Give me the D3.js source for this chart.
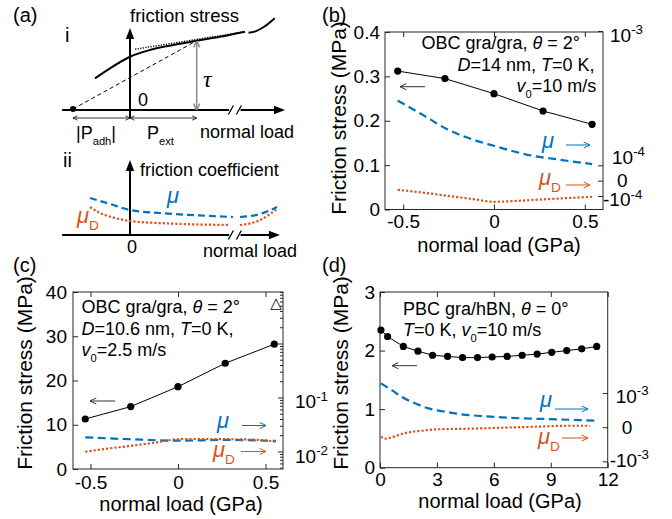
<!DOCTYPE html>
<html><head><meta charset="utf-8">
<script src="https://cdn.jsdelivr.net/npm/d3@7"></script>
<style>
body{margin:0;background:#fff}
svg{display:block}
text{font-family:"Liberation Sans",Arial,Helvetica,sans-serif}
</style>
</head><body>
<svg id="c" width="672" height="519"></svg>
<script>
// ---------------- DATA ----------------
// panel (b)
const loadB = [-0.53, -0.27, 0, 0.27, 0.54];
const tauB = [0.312, 0.295, 0.261, 0.222, 0.192];
const muLoadB = [-0.53, -0.4, -0.26, -0.1, 0, 0.1, 0.21, 0.34, 0.54];
const muB = [3.06e-4, 2.43e-4, 1.88e-4, 1.54e-4, 1.41e-4, 1.29e-4, 1.19e-4, 1.12e-4, 1.03e-4];
const muDLoadB = [-0.53, -0.44, -0.26, -0.115, 0, 0.1, 0.2, 0.36, 0.54];
const muDB = [-0.57e-4, -0.68e-4, -0.95e-4, -1.046e-4, -1.095e-4, -1.083e-4, -1.064e-4, -1.035e-4, -1.005e-4];
const xTicksB = [-0.5, 0, 0.5];
const yTicksB = [0, 0.1, 0.2, 0.3, 0.4];
const rTicksB = [1e-3, 1e-4, 0, -1e-4];
const rLabelsB = [["10","-3"], ["10","-4"], ["0",""], ["-10","-4"]];

// panel (c)
const loadC = [-0.53, -0.27, 0, 0.27, 0.55];
const tauC = [11.3, 14.1, 18.6, 23.9, 28.2];
const muLoadC = [-0.53, -0.27, 0, 0.27, 0.56];
const muC = [0.0187, 0.0172, 0.0162, 0.0167, 0.0160];
const muDLoadC = [-0.53, -0.39, -0.26, -0.12, 0, 0.12, 0.32, 0.47, 0.56];
const muDC = [0.0101, 0.0117, 0.0131, 0.0151, 0.0172, 0.0174, 0.0172, 0.0167, 0.0155];
const xTicksC = [-0.5, 0, 0.5];
const yTicksC = [0, 10, 20, 30, 40];
const rTicksC = [1e-1, 1e-2];
const rLabelsC = [["10","-1"], ["10","-2"]];

// panel (d)
const loadD = [0.05, 0.4, 1.23, 2.0, 2.77, 3.56, 4.35, 5.14, 5.91, 6.70, 7.49, 8.28, 9.05, 9.84, 10.63, 11.42];
const tauD = [2.35, 2.24, 2.07, 1.99, 1.92, 1.90, 1.88, 1.88, 1.89, 1.90, 1.92, 1.94, 1.97, 2.00, 2.03, 2.07];
const muLoadD = [0.05, 0.62, 1.14, 1.85, 2.55, 3.43, 4.31, 5.36, 6.42, 7.47, 8.88, 9.93, 11.5];
const muD = [1.26e-3, 1.08e-3, 0.906e-3, 0.713e-3, 0.567e-3, 0.468e-3, 0.392e-3, 0.342e-3, 0.304e-3, 0.275e-3, 0.254e-3, 0.234e-3, 0.205e-3];
const muDLoadD = [0.05, 0.26, 0.62, 1.14, 1.67, 2.2, 2.9, 4.66, 6.42, 8.17, 9.93, 11.07];
const muDD = [-0.263e-3, -0.322e-3, -0.281e-3, -0.184e-3, -0.117e-3, -0.088e-3, -0.047e-3, -0.029e-3, 0, 0.029e-3, 0.058e-3, 0.058e-3];
const xTicksD = [0, 3, 6, 9, 12];
const yTicksD = [0, 1, 2, 3];
const rTicksD = [1e-3, 0, -1e-3];
const rLabelsD = [["10","-3"], ["0",""], ["-10","-3"]];

// panel (a) schematic (abstract units)
const schemStress = [[-0.614,0.459],[-0.351,0.604],[0,0.772],[0.351,0.87],[0.76,0.942],[1.17,1.004],[1.579,1.062],[2.018,1.135]];
const schemStress2 = [[2.08,1.12],[2.2,1.14],[2.36,1.21],[2.54,1.33]];
const schemTangent = [[0.088,0.881],[2.018,1.135]];
const schemAdh = [[-1,0.014],[1.17,1.004]];
const schemMu1 = [[-0.702,0.529],[-0.351,0.443],[0,0.357],[0.526,0.314],[1.228,0.279],[1.807,0.257]];
const schemMu2 = [[1.93,0.257],[2.281,0.3],[2.579,0.4]];
const schemMuD1 = [[-0.702,0.4],[-0.526,0.314],[-0.263,0.243],[0,0.2],[0.702,0.164],[1.754,0.143]];
const schemMuD2 = [[1.93,0.143],[2.246,0.2],[2.579,0.371]];

// ---------------- STYLE ----------------
const BLUE = "#0072BD", ORANGE = "#D95319", AX = "#262626";
const svg = d3.select("#c");

function rich(g, x, y, parts, size, color, anchor) {
  const t = g.append("text").attr("x", x).attr("y", y).attr("font-size", size)
    .attr("fill", color || "#000").attr("text-anchor", anchor || "start");
  let shift = 0;
  parts.forEach(p => {
    const s = typeof p === "string" ? p : p[0];
    const st = typeof p === "string" ? [] : p[1].split(" ");
    const ts = t.append("tspan").text(s);
    let target = 0;
    if (st.includes("sub")) { ts.attr("font-size", size * 0.62); target = size * 0.32; }
    if (st.includes("sup")) { ts.attr("font-size", size * 0.7); target = -size * 0.42; }
    if (st.includes("it")) ts.attr("font-style", "italic");
    if (target - shift !== 0) ts.attr("dy", target - shift);
    shift = target;
  });
  return t;
}

function openArrow(g, x1, y1, x2, y2, color, w, head, both) {
  g.append("line").attr("x1", x1).attr("y1", y1).attr("x2", x2).attr("y2", y2)
    .attr("stroke", color).attr("stroke-width", w);
  const heads = both ? [[x2, y2, x1, y1], [x1, y1, x2, y2]] : [[x2, y2, x1, y1]];
  heads.forEach(([hx, hy, ox, oy]) => {
    const a = Math.atan2(hy - oy, hx - ox);
    [0.45, -0.45].forEach(d => {
      g.append("line").attr("x1", hx).attr("y1", hy)
        .attr("x2", hx - head * Math.cos(a + d)).attr("y2", hy - head * Math.sin(a + d))
        .attr("stroke", color).attr("stroke-width", w);
    });
  });
}
function filledArrow(g, x1, y1, x2, y2, color, w, head) {
  const a = Math.atan2(y2 - y1, x2 - x1);
  g.append("line").attr("x1", x1).attr("y1", y1)
    .attr("x2", x2 - head * 0.8 * Math.cos(a)).attr("y2", y2 - head * 0.8 * Math.sin(a))
    .attr("stroke", color).attr("stroke-width", w);
  const p = [[x2, y2],
    [x2 - head * Math.cos(a) + head * 0.38 * Math.sin(a), y2 - head * Math.sin(a) - head * 0.38 * Math.cos(a)],
    [x2 - head * Math.cos(a) - head * 0.38 * Math.sin(a), y2 - head * Math.sin(a) + head * 0.38 * Math.cos(a)]];
  g.append("path").attr("d", "M" + p.join("L") + "Z").attr("fill", color);
}
function makeSym(lin, k) {
  return v => { const a = Math.abs(v) / lin; return Math.sign(v) * (a <= 1 ? a : 1 + k * Math.log10(a)); };
}

// generic panel frame + left/bottom axes
function frame(cfg) {
  const g = svg.append("g");
  const { x, y, L, R, T, B } = cfg;
  const ab = g.append("g").attr("transform", `translate(0,${B})`)
    .call(d3.axisBottom(x).tickValues(cfg.xTicks).tickFormat(d => String(d))
      .tickSizeInner(-5).tickSizeOuter(0).tickPadding(cfg.xPad));
  const at = g.append("g").attr("transform", `translate(0,${T})`)
    .call(d3.axisTop(x).tickValues(cfg.xTicks).tickFormat("").tickSizeInner(-5).tickSizeOuter(0));
  const al = g.append("g").attr("transform", `translate(${L},0)`)
    .call(d3.axisLeft(y).tickValues(cfg.yTicks).tickFormat(d => String(d))
      .tickSizeInner(-5).tickSizeOuter(0).tickPadding(cfg.yPad));
  [ab, at, al].forEach(a => {
    a.select(".domain").remove();
    a.selectAll("line").attr("stroke", AX);
    a.selectAll("text").attr("font-size", 19).attr("fill", "#000")
      .style("font-family", '"Liberation Sans",Arial,sans-serif');
  });
  g.append("rect").attr("x", L).attr("y", T).attr("width", R - L).attr("height", B - T)
    .attr("fill", "none").attr("stroke", AX).attr("stroke-width", 1);
  g.append("text").attr("x", cfg.xlx).attr("y", cfg.xly).attr("text-anchor", "middle")
    .attr("font-size", 20).text("normal load (GPa)");
  g.append("text")
    .attr("transform", `translate(${cfg.ylx},${cfg.yly}) rotate(-90)`)
    .attr("text-anchor", "middle").attr("dy", "0.35em").attr("font-size", 21)
    .text("Friction stress (MPa)");
  return g;
}

function drawSeries(g, x, yL, yR, c) {
  const lineC = d3.line().x(d => x(d[0])).y(d => yR(d[1])).curve(d3.curveMonotoneX);
  g.append("path").attr("d", lineC(d3.zip(c.muLoad, c.mu))).attr("fill", "none")
    .attr("stroke", BLUE).attr("stroke-width", 2.2).attr("stroke-dasharray", "8,4.5");
  g.append("path").attr("d", lineC(d3.zip(c.muDLoad, c.muD))).attr("fill", "none")
    .attr("stroke", ORANGE).attr("stroke-width", 2.2).attr("stroke-dasharray", "2.2,2");
  const lineK = d3.line().x(d => x(d[0])).y(d => yL(d[1]));
  g.append("path").attr("d", lineK(d3.zip(c.load, c.tau))).attr("fill", "none")
    .attr("stroke", "#000").attr("stroke-width", 1);
  g.selectAll(null).data(d3.zip(c.load, c.tau)).enter().append("circle")
    .attr("cx", d => x(d[0])).attr("cy", d => yL(d[1])).attr("r", 3.6).attr("fill", "#000");
}

function rightLabels(g, R, yR, ticks, labels, offs, xoffs) {
  ticks.forEach((v, i) => {
    const [base, exp] = labels[i];
    const parts = exp ? [base, [exp, "sup"]] : [base];
    rich(g, R + xoffs[i], yR(v) + offs[i], parts, 19, "#000");
  });
}

// ---------------- PANEL (b) ----------------
{
  const L = 385, R = 603, T = 32, B = 209.5;
  const x = d3.scaleLinear().domain([-0.6, 0.6]).range([L, R]);
  const y = d3.scaleLinear().domain([0, 0.4]).range([B, T]);
  const tf = makeSym(1e-4, 8.76);
  const yRt = d3.scaleLinear().domain([tf(-1.25e-4), tf(1e-3)]).range([B, T - 0.5]);
  const yR = v => yRt(tf(v));
  const g = frame({ x, y, L, R, T, B, xTicks: xTicksB, yTicks: yTicksB, xPad: 5, yPad: 5,
    xlx: 499, xly: 252, ylx: 339, yly: 118 });
  rTicksB.forEach(v => g.append("line").attr("x1", R).attr("x2", R - 5)
    .attr("y1", yR(v)).attr("y2", yR(v)).attr("stroke", AX));
  rightLabels(g, R, yR, rTicksB, rLabelsB, [10.5, -1.5, 6, 10], [7, 9, 14, 0]);
  drawSeries(g, x, y, yR, { load: loadB, tau: tauB, muLoad: muLoadB, mu: muB, muDLoad: muDLoadB, muD: muDB });
  rich(g, 421.5, 49, ["OBC gra/gra, ", ["θ", "it"], " = 2°"], 18);
  rich(g, 457.5, 71, [["D", "it"], "=14 nm, ", ["T", "it"], "=0 K,"], 18);
  rich(g, 516.5, 92, [["v", "it"], ["0", "sub"], "=10 m/s"], 18);
  openArrow(g, 425, 86.7, 400, 86.7, "#333", 1, 7);
  rich(g, 542, 148, [["μ", "it"]], 22, BLUE);
  openArrow(g, 566, 145, 590, 145, BLUE, 1, 7);
  rich(g, 539, 185, [["μ", "it"], ["D", "sub"]], 22, ORANGE);
  openArrow(g, 566, 185, 590, 185, ORANGE, 1, 7);
  g.append("text").attr("x", 322).attr("y", 22).attr("font-size", 20).text("(b)");
}

// ---------------- PANEL (c) ----------------
{
  const L = 73, R = 283, T = 292, B = 469;
  const x = d3.scaleLinear().domain([-0.6, 0.6]).range([L, R]);
  const y = d3.scaleLinear().domain([0, 40]).range([B, T]);
  const yR = d3.scaleLog().domain([0.00484, 9.18]).range([B, T]);
  const g = frame({ x, y, L, R, T, B, xTicks: xTicksC, yTicks: yTicksC, xPad: 7, yPad: 6,
    xlx: 181, xly: 511, ylx: 25, yly: 373 });
  const [d0, d1] = yR.domain();
  for (let e = -3; e <= 1; e++) for (let m = 1; m <= 9; m++) {
    const v = m * Math.pow(10, e);
    if (v < d0 || v > d1) continue;
    const len = m === 1 ? 5 : 3;
    g.append("line").attr("x1", R).attr("x2", R - len).attr("y1", yR(v)).attr("y2", yR(v)).attr("stroke", AX);
  }
  rightLabels(g, R, yR, rTicksC, rLabelsC, [10.5, 11], [12, 12]);
  drawSeries(g, x, y, yR, { load: loadC, tau: tauC, muLoad: muLoadC, mu: muC, muDLoad: muDLoadC, muD: muDC });
  rich(g, 81.5, 313, ["OBC gra/gra, ", ["θ", "it"], " = 2°"], 18);
  rich(g, 81.5, 335, [["D", "it"], "=10.6 nm, ", ["T", "it"], "=0 K,"], 18);
  rich(g, 81.5, 356, [["v", "it"], ["0", "sub"], "=2.5 m/s"], 18);
  g.append("text").attr("x", 276).attr("y", 308).attr("font-size", 15).attr("text-anchor", "middle")
    .style("font-family", '"DejaVu Sans",sans-serif').text("△");
  openArrow(g, 115, 401, 90, 401, "#333", 1, 7);
  rich(g, 217, 428, [["μ", "it"]], 22, BLUE);
  openArrow(g, 242, 425.5, 266, 425.5, BLUE, 1, 7);
  rich(g, 213, 457, [["μ", "it"], ["D", "sub"]], 22, ORANGE);
  openArrow(g, 241, 451.5, 266, 451.5, ORANGE, 1, 7);
  g.append("text").attr("x", 13).attr("y", 272).attr("font-size", 20).text("(c)");
}

// ---------------- PANEL (d) ----------------
{
  const L = 380, R = 607.7, T = 292, B = 467.7;
  const x = d3.scaleLinear().domain([0, 12]).range([L, R]);
  const y = d3.scaleLinear().domain([0, 3]).range([B, T]);
  const tf = makeSym(1e-3, 2.97);
  const yRt = d3.scaleLinear().domain([tf(-1.14e-3), tf(1e-2)]).range([B, T]);
  const yR = v => yRt(tf(v));
  const g = frame({ x, y, L, R, T, B, xTicks: xTicksD, yTicks: yTicksD, xPad: 5, yPad: 5,
    xlx: 500, xly: 508, ylx: 341, yly: 373 });
  rTicksD.forEach(v => g.append("line").attr("x1", R).attr("x2", R - 5)
    .attr("y1", yR(v)).attr("y2", yR(v)).attr("stroke", AX));
  rightLabels(g, R, yR, rTicksD, rLabelsD, [9.5, 6.5, 5.5], [8, 14, 2]);
  drawSeries(g, x, y, yR, { load: loadD, tau: tauD, muLoad: muLoadD, mu: muD, muDLoad: muDLoadD, muD: muDD });
  rich(g, 403, 315, ["PBC gra/hBN, ", ["θ", "it"], " = 0°"], 18);
  rich(g, 403, 336, [["T", "it"], "=0 K, ", ["v", "it"], ["0", "sub"], "=10 m/s"], 18);
  openArrow(g, 417, 365.7, 392, 365.7, "#333", 1, 7);
  rich(g, 540, 407, [["μ", "it"]], 22, BLUE);
  openArrow(g, 555, 409, 588, 409, BLUE, 1, 7);
  rich(g, 538, 444, [["μ", "it"], ["D", "sub"]], 22, ORANGE);
  openArrow(g, 562, 438, 588, 438, ORANGE, 1, 7);
  g.append("text").attr("x", 322).attr("y", 272).attr("font-size", 20).text("(d)");
}

// ---------------- PANEL (a) schematic ----------------
{
  const g = svg.append("g");
  const sx = d3.scaleLinear().domain([0, 1]).range([130, 187]);
  const sy1 = d3.scaleLinear().domain([0, 1]).range([110, 41]);
  const sy2 = d3.scaleLinear().domain([0, 1]).range([235, 165]);
  const l1 = d3.line().x(d => sx(d[0])).y(d => sy1(d[1])).curve(d3.curveMonotoneX);
  const l2 = d3.line().x(d => sx(d[0])).y(d => sy2(d[1])).curve(d3.curveMonotoneX);
  const brk = (yy) => {
    g.append("rect").attr("x", sx(1.74)).attr("y", yy - 3).attr("width", sx(1.94) - sx(1.74)).attr("height", 6).attr("fill", "#fff");
    [1.77, 1.91].forEach(u => g.append("line").attr("x1", sx(u) - 2.5).attr("y1", yy + 4.5)
      .attr("x2", sx(u) + 2.5).attr("y2", yy - 4.5).attr("stroke", "#000").attr("stroke-width", 1.3));
  };
  // --- i ---
  filledArrow(g, sx(-1.19), sy1(0), sx(2.72), sy1(0), "#000", 2, 11);
  brk(sy1(0));
  filledArrow(g, sx(0), 118, sx(0), 28, "#000", 2, 11);
  g.append("path").attr("d", d3.line().x(d => sx(d[0])).y(d => sy1(d[1]))(schemAdh))
    .attr("fill", "none").attr("stroke", "#000").attr("stroke-width", 1).attr("stroke-dasharray", "4,3");
  g.append("circle").attr("cx", sx(schemAdh[0][0])).attr("cy", sy1(schemAdh[0][1])).attr("r", 3).attr("fill", "#000");
  g.append("path").attr("d", l1(schemStress)).attr("fill", "none").attr("stroke", "#000").attr("stroke-width", 2);
  g.append("path").attr("d", l1(schemStress2)).attr("fill", "none").attr("stroke", "#000").attr("stroke-width", 2);
  g.append("path").attr("d", d3.line().x(d => sx(d[0])).y(d => sy1(d[1]))(schemTangent))
    .attr("fill", "none").attr("stroke", "#000").attr("stroke-width", 1.3).attr("stroke-dasharray", "1.3,1.3");
  openArrow(g, sx(schemAdh[1][0]), sy1(1), sx(schemAdh[1][0]), sy1(0), "#888", 1.5, 7, true);
  openArrow(g, sx(-1), 118, sx(0), 118, "#000", 0.8, 5, true);
  openArrow(g, sx(0), 118, sx(schemAdh[1][0]), 118, "#000", 0.8, 5, true);
  g.append("text").attr("x", 13).attr("y", 22).attr("font-size", 20).text("(a)");
  g.append("text").attr("x", 65).attr("y", 42).attr("font-size", 20).text("i");
  g.append("text").attr("x", 130).attr("y", 22).attr("font-size", 18.5).text("friction stress");
  g.append("text").attr("x", 203).attr("y", 87).attr("font-size", 24).attr("font-style", "italic")
    .style("font-family", '"Liberation Serif","Times New Roman",serif').text("τ");
  g.append("text").attr("x", 138).attr("y", 106).attr("font-size", 18).text("0");
  rich(g, 76, 139, ["|P", ["adh", "sub"], "|"], 18);
  rich(g, 147, 139, ["P", ["ext", "sub"]], 18);
  g.append("text").attr("x", 200).attr("y", 138).attr("font-size", 18).text("normal load");
  // --- ii ---
  filledArrow(g, sx(-1.19), sy2(0), sx(2.63), sy2(0), "#000", 2, 11);
  brk(sy2(0));
  filledArrow(g, sx(0), sy2(0), sx(0), 160, "#000", 2, 11);
  [schemMu1, schemMu2].forEach(s => g.append("path").attr("d", l2(s)).attr("fill", "none")
    .attr("stroke", BLUE).attr("stroke-width", 2.2).attr("stroke-dasharray", "7,4"));
  [schemMuD1, schemMuD2].forEach(s => g.append("path").attr("d", l2(s)).attr("fill", "none")
    .attr("stroke", ORANGE).attr("stroke-width", 2.2).attr("stroke-dasharray", "2.2,2"));
  g.append("text").attr("x", 63).attr("y", 167).attr("font-size", 20).text("ii");
  g.append("text").attr("x", 140).attr("y", 176).attr("font-size", 18).text("friction coefficient");
  rich(g, 167, 203, [["μ", "it"]], 22, BLUE);
  rich(g, 77, 223, [["μ", "it"], ["D", "sub"]], 22, ORANGE);
  g.append("text").attr("x", 127).attr("y", 253).attr("font-size", 18).text("0");
  g.append("text").attr("x", 203).attr("y", 257).attr("font-size", 18).text("normal load");
}
</script>
</body></html>
